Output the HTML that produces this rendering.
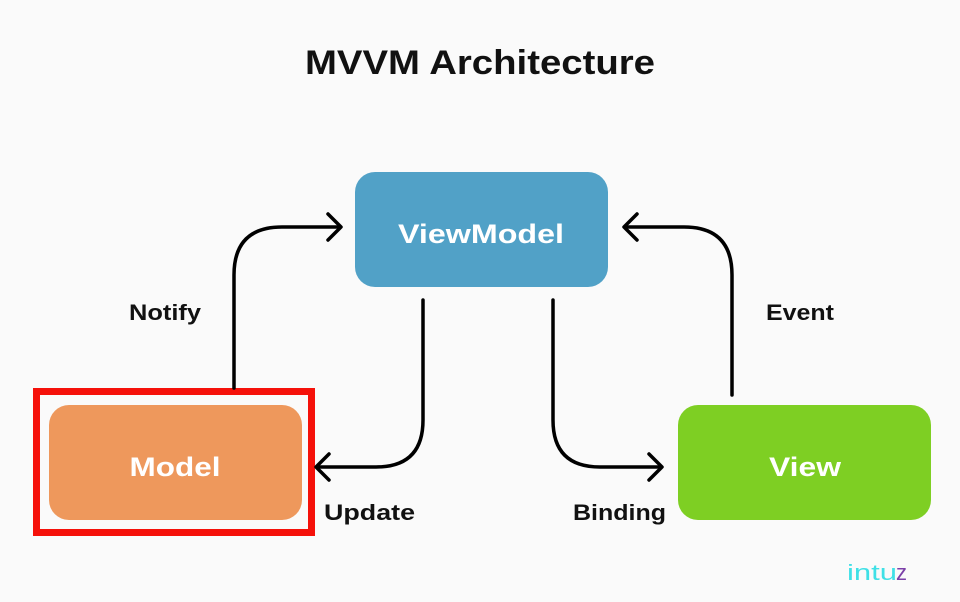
<!DOCTYPE html>
<html><head><meta charset="utf-8"><style>
html,body{margin:0;padding:0;background:#fafafa;}
svg{display:block;}
text{font-family:"Liberation Sans",sans-serif;font-weight:bold;}
</style></head><body>
<svg width="960" height="602" viewBox="0 0 960 602" xmlns="http://www.w3.org/2000/svg">
<rect width="960" height="602" fill="#fafafa"/>
<text x="480" y="74" text-anchor="middle" font-size="34" fill="#111" textLength="350" lengthAdjust="spacingAndGlyphs">MVVM Architecture</text>

<rect x="355" y="172" width="253" height="115" rx="20" fill="#51a1c7"/>
<text x="481" y="243" text-anchor="middle" font-size="27" fill="#fff" textLength="166" lengthAdjust="spacingAndGlyphs">ViewModel</text>

<rect x="36.5" y="391.5" width="275" height="141" fill="none" stroke="#f5110a" stroke-width="7"/>
<rect x="49" y="405" width="253" height="115" rx="20" fill="#ee985c"/>
<text x="175" y="476" text-anchor="middle" font-size="27" fill="#fff" textLength="91" lengthAdjust="spacingAndGlyphs">Model</text>

<rect x="678" y="405" width="253" height="115" rx="20" fill="#7ecf23"/>
<text x="805" y="476" text-anchor="middle" font-size="27" fill="#fff" textLength="72" lengthAdjust="spacingAndGlyphs">View</text>

<g fill="none" stroke="#000" stroke-width="3.5" stroke-linecap="round" stroke-linejoin="round">
<path d="M234 388 V275 Q234 227 282 227 H340"/>
<path d="M328 214 L341 227 L328 240"/>
<path d="M732 395 V275 Q732 227 684 227 H625"/>
<path d="M637 214 L624 227 L637 240"/>
<path d="M423 300 V420 Q423 467 376 467 H317"/>
<path d="M329 454 L316 467 L329 480"/>
<path d="M553 300 V420 Q553 467 600 467 H661"/>
<path d="M649 454 L662 467 L649 480"/>
</g>

<text x="129" y="320" font-size="22" fill="#111" textLength="72" lengthAdjust="spacingAndGlyphs">Notify</text>
<text x="766" y="320" font-size="22" fill="#111" textLength="68" lengthAdjust="spacingAndGlyphs">Event</text>
<text x="324" y="520" font-size="22" fill="#111" textLength="91" lengthAdjust="spacingAndGlyphs">Update</text>
<text x="573" y="520" font-size="22" fill="#111" textLength="93" lengthAdjust="spacingAndGlyphs">Binding</text>

<text x="847" y="580" font-size="22" font-weight="normal" fill="#3fe0e6" textLength="50" lengthAdjust="spacingAndGlyphs" style="font-weight:normal">intu</text>
<text x="896" y="580" font-size="22" fill="#7b3fa8" style="font-weight:normal">z</text>
</svg>
</body></html>
